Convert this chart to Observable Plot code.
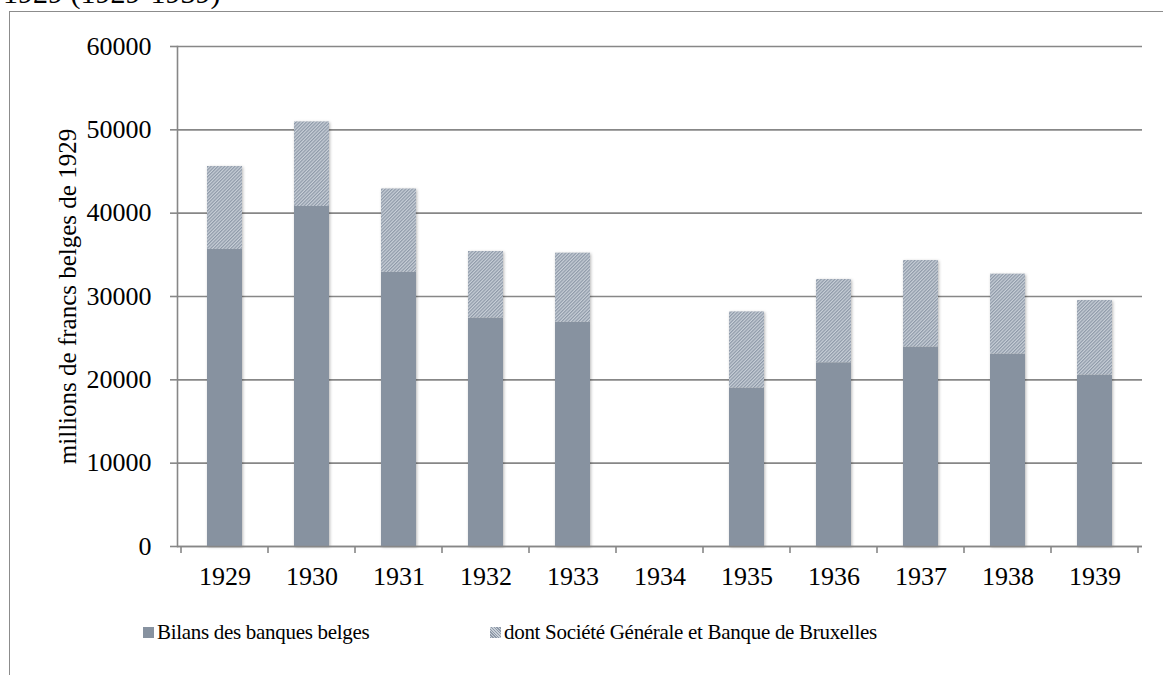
<!DOCTYPE html>
<html>
<head>
<meta charset="utf-8">
<script src="https://cdn.jsdelivr.net/npm/d3@7"></script>
<script src="https://cdn.jsdelivr.net/npm/@observablehq/plot@0.6"></script>
<style>
  html, body { margin: 0; padding: 0; background: #fff; }
  #wrap { position: relative; width: 1163px; height: 675px; overflow: hidden; font-family: 'Liberation Serif', 'Times New Roman', serif; color: #000; }
  #title { position: absolute; left: 3px; top: -22px; font-size: 30px; line-height: 30px; white-space: nowrap; }
  #frame { position: absolute; left: 9px; top: 11px; width: 1300px; height: 800px; border: 1.5px solid #8c8c8c; box-sizing: border-box; }
  #chart { position: absolute; left: 0; top: 0; }
  .leg { position: absolute; top: 617px; height: 30px; display: flex; align-items: center; font-size: 21px; letter-spacing: -0.3px; white-space: nowrap; }
  .sw { width: 11px; height: 11px; margin-right: 3px; flex: none; }
</style>
</head>
<body>
<div id="wrap">
  <div id="title">1929 (1929-1939)</div>
  <div id="frame"></div>
  <div id="chart"></div>
  <div class="leg" id="leg0" style="left:143px"><span class="sw" style="background:#8792a0"></span><span class="lt"></span></div>
  <div class="leg" id="leg1" style="left:490px"><span class="sw" style="background:repeating-linear-gradient(45deg,#8e99a8 0 1px,#c9d0d8 1px 2px)"></span><span class="lt"></span></div>
</div>
<script>
const years = ["1929","1930","1931","1932","1933","1934","1935","1936","1937","1938","1939"];
const seriesNames = ["Bilans des banques belges", "dont Société Générale et Banque de Bruxelles"];
const bilans = [35650, 40800, 32900, 27400, 26900, null, 19000, 22040, 23920, 23080, 20560];
const dontSG = [9950, 10150, 10000, 8000, 8300, null, 9150, 10000, 10400, 9600, 8960];
const yTicks = [0, 10000, 20000, 30000, 40000, 50000, 60000];
const yLabel = "millions de francs belges de 1929";

const rows = [];
years.forEach((yr, i) => {
  if (bilans[i] != null) rows.push({year: yr, series: seriesNames[0], value: bilans[i]});
});
years.forEach((yr, i) => {
  if (dontSG[i] != null) rows.push({year: yr, series: seriesNames[1], value: dontSG[i]});
});

const axisColor = "#878787";
const plot = Plot.plot({
  width: 1163,
  height: 600,
  marginLeft: 177,
  marginRight: 21,
  marginTop: 46,
  marginBottom: 54,
  style: {fontFamily: "'Liberation Serif', 'Times New Roman', serif", fontSize: "26px", color: "#000", background: "transparent", overflow: "visible"},
  x: {domain: years, paddingInner: 0.6, paddingOuter: 0.3, label: null},
  y: {domain: [0, 60000], label: null},
  color: {domain: seriesNames, range: ["#8792a0", "url(#hatch)"]},
  marks: [
    Plot.gridY({ticks: yTicks, stroke: axisColor, strokeOpacity: 1, strokeWidth: 1.6}),
    Plot.barY(rows, {x: "year", y: "value", z: "series", fill: "series"}),
    Plot.frame({anchor: "left", stroke: axisColor, strokeWidth: 1.6}),
    Plot.ruleY([0], {stroke: axisColor, strokeWidth: 1.6}),
    Plot.axisY({ticks: yTicks, tickSize: 7, tickPadding: 19, tickFormat: d3.format("d"), stroke: axisColor, strokeWidth: 1.6, fontSize: 26, label: null}),
    Plot.axisX({tickSize: 0, tickPadding: 20, fontSize: 26, label: null}),
    Plot.text([yLabel], {frameAnchor: "left", text: d => d, dx: -110, rotate: -90, fontSize: 25, textAnchor: "middle", lineAnchor: "middle", fill: "#000"})
  ]
});

const svg = d3.select(plot);
svg.insert("defs", ":first-child").html(
  '<pattern id="hatch" patternUnits="userSpaceOnUse" width="2.4" height="2.4" patternTransform="rotate(45)">' +
  '<rect width="2.4" height="2.4" fill="#c9d0d8"/><rect width="1.2" height="2.4" fill="#8e99a8"/></pattern>'
);
svg.selectAll('g[aria-label="bar"]').style("filter", "drop-shadow(1.5px 1px 1.5px rgba(0,0,0,0.28))");

// category boundary ticks below the x axis, from the library's band scale
const xs = plot.scale("x");
const ys = plot.scale("y");
const y0 = ys.apply(0);
const half = (xs.step - xs.bandwidth) / 2;
const bounds = years.map(yr => xs.apply(yr) - half);
bounds.push(xs.apply(years[years.length - 1]) + xs.bandwidth + half);
svg.append("g").selectAll("line").data(bounds).join("line")
  .attr("x1", d => d).attr("x2", d => d)
  .attr("y1", y0).attr("y2", y0 + 7)
  .attr("stroke", axisColor).attr("stroke-width", 1.6);

document.getElementById("chart").appendChild(plot);
document.querySelector("#leg0 .lt").textContent = seriesNames[0];
document.querySelector("#leg1 .lt").textContent = seriesNames[1];
</script>
</body>
</html>
